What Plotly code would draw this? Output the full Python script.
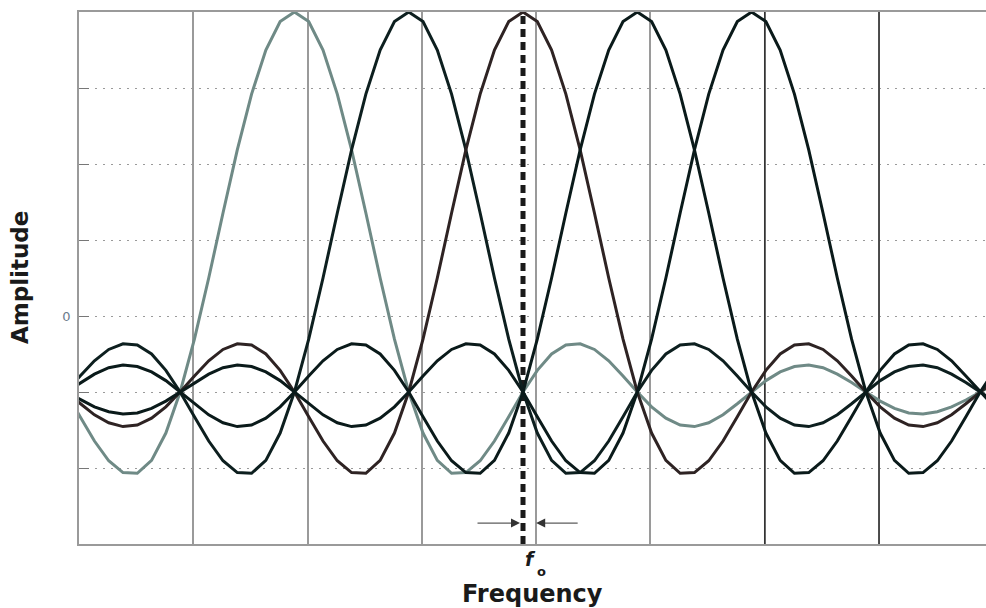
import plotly.graph_objects as go

# ---------------- data ----------------
# subcarrier centre frequencies (axis units = one grid spacing)
carrier_centers = [1.885, 2.885, 3.885, 4.885, 5.885]
carrier_colors = ["#6f8a86", "#0d1f1f", "#2e2323", "#0a1a1a", "#0a1a1a"]
f0 = 3.885

# sampled pulse amplitude at offsets 0, 1/8, 2/8, ... (symmetric about the centre)
pulse_step = 0.125
pulse_half = [
    1.000, 0.975, 0.900, 0.784, 0.637, 0.471, 0.300, 0.139,
    0.000, -0.108, -0.180, -0.214, -0.212, -0.181, -0.129, -0.065,
    0.000, 0.057, 0.100, 0.124, 0.127, 0.112, 0.082, 0.042,
    0.000, -0.039, -0.069, -0.087, -0.091, -0.081, -0.060, -0.031,
    0.000, 0.030, 0.053, 0.067, 0.071, 0.064, 0.047, 0.025,
    0.000, -0.024, -0.043, -0.055, -0.058, -0.052, -0.039, -0.021,
    0.000, 0.020,
]

y_grid = [-0.2, 0.0, 0.2, 0.4, 0.6, 0.8]
y_ticktext = ["", "", "0", "", "", ""]
x_grid = [1, 2, 3, 4, 5, 6, 7]
dark_grid = [6, 7]
arrow_right_target = 4

x_range = [0, 7.936]
y_range = [-0.4, 1.0]

# ---------------- figure ----------------
offsets = [-(i * pulse_step) for i in range(len(pulse_half) - 1, 0, -1)] + \
          [i * pulse_step for i in range(len(pulse_half))]
amps = pulse_half[:0:-1] + pulse_half

fig = go.Figure()
for c, col in zip(carrier_centers, carrier_colors):
    fig.add_trace(go.Scatter(
        x=[c + o for o in offsets], y=amps, mode="lines",
        line=dict(color=col, width=3), showlegend=False, hoverinfo="skip"))

shapes = []
for g in dark_grid:
    shapes.append(dict(type="line", xref="x", yref="y", x0=g, x1=g,
                       y0=y_range[0], y1=y_range[1], layer="between",
                       line=dict(color="#333333", width=1.5)))
shapes.append(dict(type="line", xref="x", yref="y", x0=f0, x1=f0,
                   y0=y_range[0], y1=y_range[1], layer="between",
                   line=dict(color="#1a1a1a", width=5, dash="8px,5px")))

arrow_y = -0.345
annotations = [
    dict(x=f0, y=arrow_y, xref="x", yref="y", text="", showarrow=True,
         xshift=-3, ax=-44, ay=0, arrowhead=2, arrowsize=1.8, arrowwidth=1,
         arrowcolor="#333333", standoff=0),
    dict(x=arrow_right_target, y=arrow_y, xref="x", yref="y", text="", showarrow=True,
         ax=43, ay=0, arrowhead=2, arrowsize=1.8, arrowwidth=1,
         arrowcolor="#333333", standoff=0),
    dict(x=f0, y=0, xref="x", yref="paper", text="<b><i>f</i></b>", showarrow=False,
         xanchor="center", yanchor="middle", xshift=7, yshift=-15,
         font=dict(family="DejaVu Sans", size=19, color="#1a1a1a")),
    dict(x=f0, y=0, xref="x", yref="paper", text="<b>o</b>", showarrow=False,
         xanchor="center", yanchor="middle", xshift=18, yshift=-27,
         font=dict(family="DejaVu Sans", size=13, color="#1a1a1a")),
    dict(x=0.5, y=0, xref="paper", yref="paper", text="<b>Frequency</b>", showarrow=False,
         xanchor="center", yanchor="middle", yshift=-50,
         font=dict(family="DejaVu Sans", size=24, color="#1a1a1a")),
    dict(x=0, y=0.5, xref="paper", yref="paper", text="<b>Amplitude</b>", showarrow=False,
         xanchor="center", yanchor="middle", xshift=-59, textangle=-90,
         font=dict(family="DejaVu Sans", size=23, color="#1a1a1a")),
]

fig.update_layout(
    width=986, height=608,
    margin=dict(l=79, r=0, t=12, b=64),
    paper_bgcolor="white", plot_bgcolor="white",
    shapes=shapes, annotations=annotations,
    xaxis=dict(range=x_range, tickvals=x_grid, showticklabels=False, ticks="",
               showgrid=True, gridcolor="#9a9a9a", gridwidth=1.5,
               showline=True, linecolor="#9a9a9a", linewidth=1.5, mirror=True,
               zeroline=False, fixedrange=True),
    yaxis=dict(range=y_range, tickvals=y_grid, ticktext=y_ticktext,
               ticks="inside", ticklen=10, tickcolor="#777777", tickwidth=1,
               ticklabelstandoff=4,
               tickfont=dict(family="DejaVu Sans", size=13, color="#6b7b8c"),
               showgrid=True, gridcolor="#9a9a9a", gridwidth=1, griddash="2px,6px",
               showline=True, linecolor="#9a9a9a", linewidth=1.5, mirror=False,
               zeroline=False, fixedrange=True),
)

fig.write_html(
    "out.html",
    config={"displayModeBar": False},
    post_script="document.body.style.margin='0';document.body.style.overflow='hidden';",
)
